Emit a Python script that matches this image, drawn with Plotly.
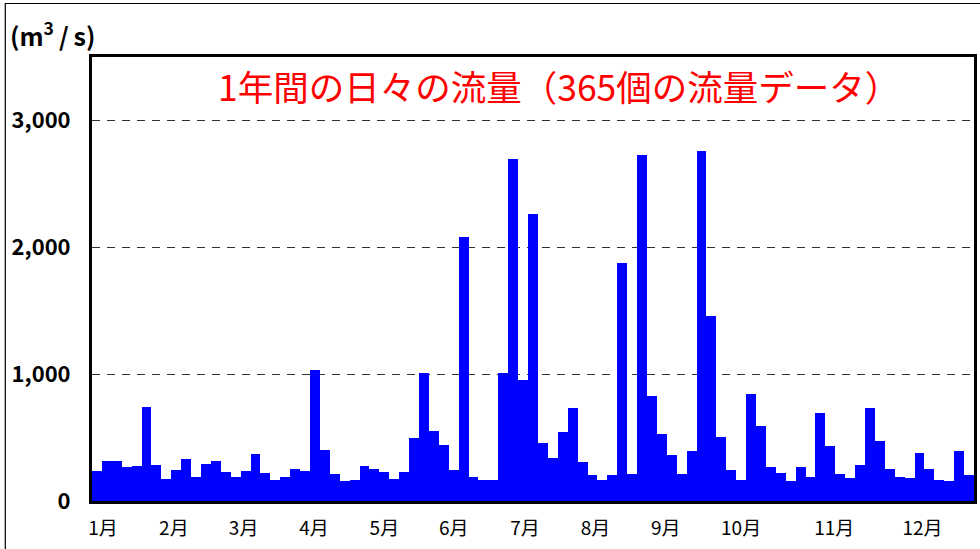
import plotly.graph_objects as go

# Flow values (m3/s) for each bar
flow = [237, 316, 316, 269, 276, 742, 284, 174, 245, 332,
        190, 292, 316, 229, 190, 237, 371, 221, 166, 190,
        253, 237, 1035, 403, 213, 158, 166, 276, 253, 229,
        174, 229, 498, 1011, 553, 442, 245, 2085, 190, 166,
        166, 1011, 2693, 956, 2259, 458, 340, 545, 735, 308,
        205, 166, 205, 1880, 213, 2725, 829, 529, 363, 213,
        395, 2757, 1461, 505, 245, 166, 845, 592, 269, 221,
        158, 269, 190, 695, 434, 213, 182, 284, 735, 474,
        253, 190, 182, 379, 253, 166, 158, 395, 205]

month_labels = ["1月", "2月", "3月", "4月", "5月", "6月",
                "7月", "8月", "9月", "10月", "11月", "12月"]
month_tick_pos = [0.6, 7.76, 14.8, 21.9, 29.0, 36.0,
                  43.2, 50.3, 57.4, 65.0, 74.4, 83.3]

y_ticks = [0, 1000, 2000, 3000]
y_tick_text = ["0", "1,000", "2,000", "3,000"]

title_text = "1年間の日々の流量（365個の流量データ）"
unit_text = "(m<sup>3</sup>\u2009/\u2009s)"

FONT = "Noto Sans CJK JP"

fig = go.Figure()
fig.add_trace(go.Bar(
    x=list(range(len(flow))),
    y=flow,
    marker=dict(color="#0000FF", line=dict(width=0)),
    width=1.0,
    hoverinfo="y",
))

fig.update_layout(
    width=980, height=549,
    margin=dict(l=92, r=3, t=57, b=48),
    paper_bgcolor="white",
    plot_bgcolor="white",
    bargap=0,
    showlegend=False,
    font=dict(family=FONT, color="black"),
)

fig.update_xaxes(
    range=[-0.5, len(flow) - 0.5],
    tickmode="array",
    tickvals=month_tick_pos,
    ticktext=month_labels,
    tickfont=dict(family=FONT, size=19, color="black"),
    showgrid=False,
    zeroline=False,
    showline=True, linecolor="black", linewidth=3, mirror=True,
    ticks="", ticklabelstandoff=8,
)

fig.update_yaxes(
    range=[0, 3500],
    tickmode="array",
    tickvals=y_ticks,
    ticktext=["<b>%s</b>" % t for t in y_tick_text],
    tickfont=dict(family=FONT, size=22, color="black"),
    showgrid=True, gridcolor="#333333", gridwidth=1, griddash="8px,7px",
    zeroline=False,
    showline=True, linecolor="black", linewidth=3, mirror=True,
    ticks="", ticklabelstandoff=14,
)

# Red title inside the plot
fig.add_annotation(
    text=title_text, xref="paper", yref="paper",
    x=0.530, y=0.935, xanchor="center", yanchor="middle",
    showarrow=False,
    font=dict(family=FONT, size=35.5, color="#FF0000"),
)

# Unit label
fig.add_annotation(
    text="<b>" + unit_text + "</b>", xref="paper", yref="paper",
    x=-0.095, y=1.052, xanchor="left", yanchor="middle",
    showarrow=False,
    font=dict(family=FONT, size=25, color="black"),
)

# Outer frame around the figure
fig.add_shape(
    type="rect", xref="paper", yref="paper",
    x0=-0.0983, x1=1.02, y0=-0.14, y1=1.1205,
    line=dict(color="black", width=1.2),
    fillcolor="rgba(0,0,0,0)", layer="above",
)

fig.write_html(
    "out.html",
    config={"displayModeBar": False},
    post_script="document.body.style.margin='0';document.body.style.overflow='hidden';",
)
